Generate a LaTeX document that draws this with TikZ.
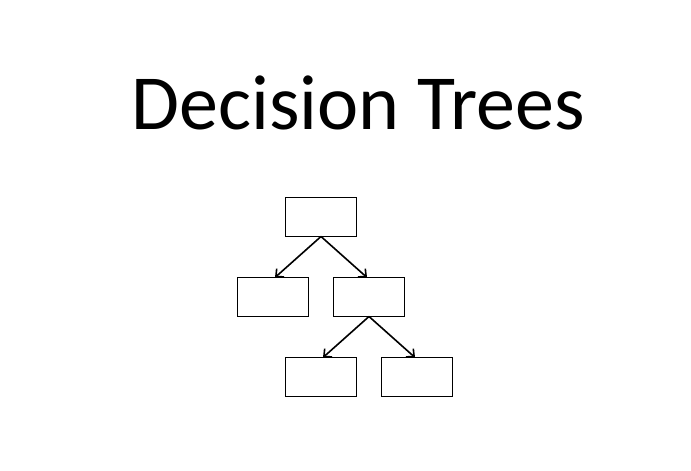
\documentclass[tikz,border=0pt]{standalone}
\usepackage{fontspec}
\setmainfont{Carlito}
\usetikzlibrary{arrows.meta}
\begin{document}
\begin{tikzpicture}[x=1pt,y=-1pt,
  box/.style={draw,line width=1.7pt,minimum width=71pt,minimum height=39pt,inner sep=0pt,outer sep=0pt},
  edge/.style={line width=1.6pt,-{Straight Barb[length=6pt,width=11pt,line width=1.6pt]}}]
\useasboundingbox (0,0) rectangle (691,471);
\node[anchor=base,font=\fontsize{78}{90}\selectfont,inner sep=0pt] (title) at (358,129) {Decision Trees};
\node[box] (root) at (321,217) {};
\node[box] (l) at (273,297) {};
\node[box] (r) at (369,297) {};
\node[box] (rl) at (321,377) {};
\node[box] (rr) at (417,377) {};
\draw[edge] (root.south) -- ([xshift=2pt]l.north);
\draw[edge] (root.south) -- ([xshift=-2pt]r.north);
\draw[edge] (r.south) -- ([xshift=2pt]rl.north);
\draw[edge] (r.south) -- ([xshift=-2pt]rr.north);
\end{tikzpicture}
\end{document}
